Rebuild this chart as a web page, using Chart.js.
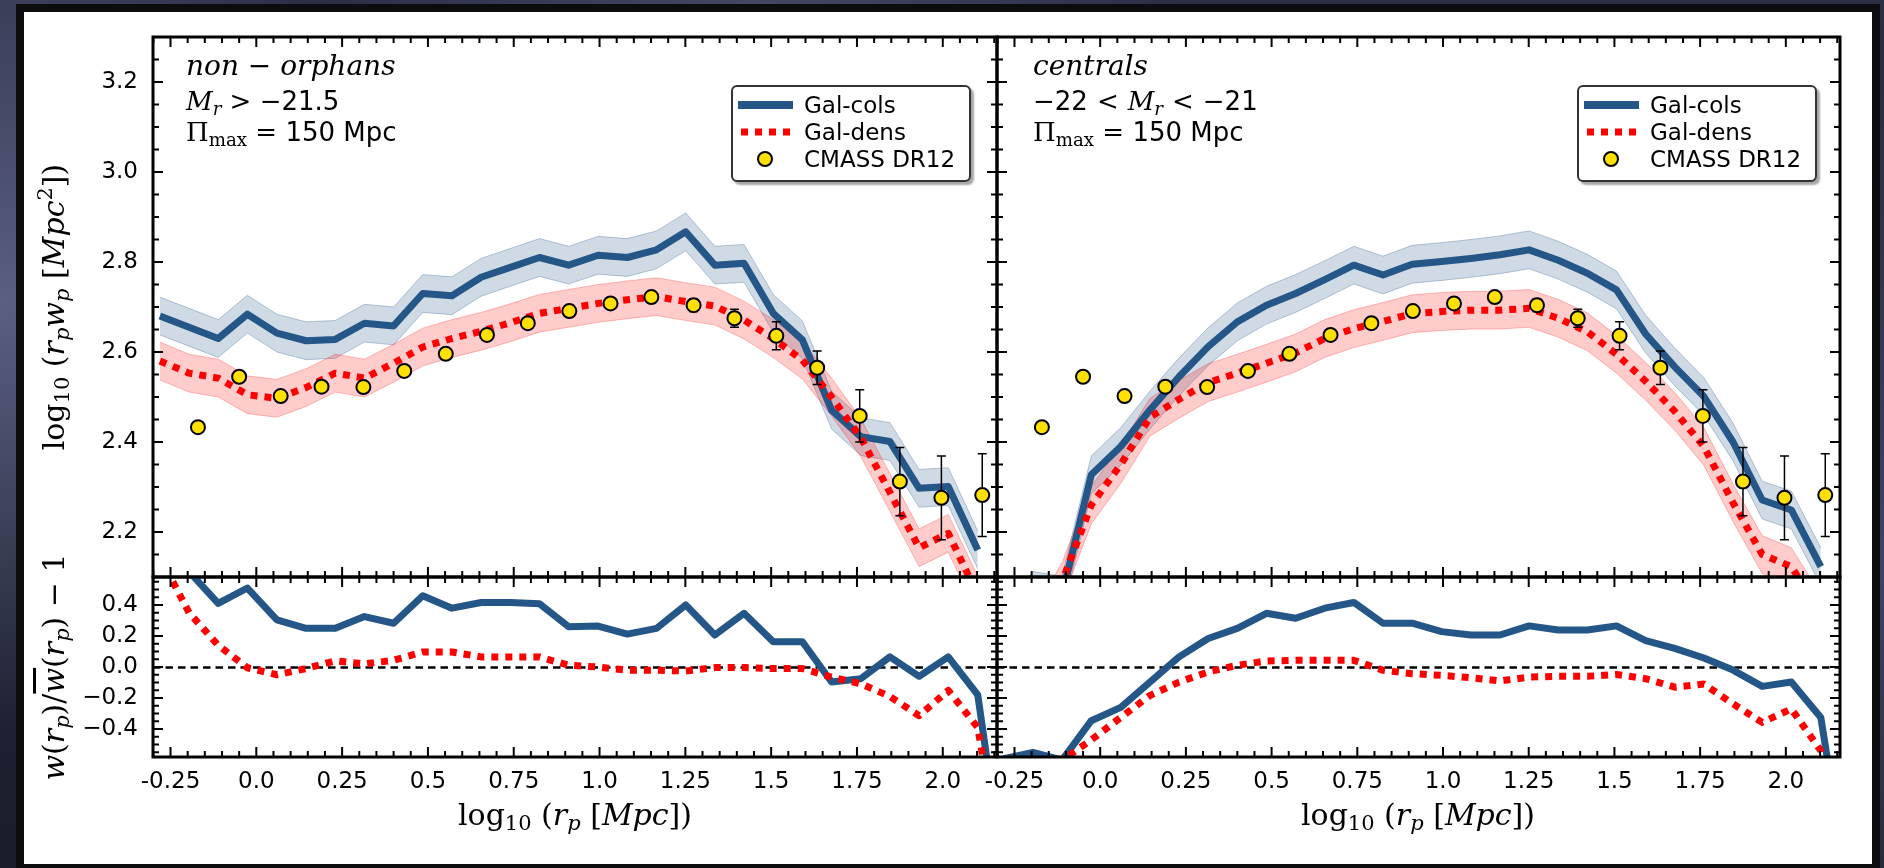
<!DOCTYPE html>
<html>
<head>
<meta charset="utf-8">
<script src="https://cdn.jsdelivr.net/npm/chart.js@4.4.1/dist/chart.umd.min.js"></script>
<style>
  html, body { margin: 0; padding: 0; }
  body {
    width: 1884px; height: 868px; overflow: hidden; position: relative;
    background:
      radial-gradient(circle at 0% 35%, rgba(135,140,185,0.55) 0, rgba(0,0,0,0) 22%),
      radial-gradient(circle at 100% 65%, rgba(100,108,150,0.45) 0, rgba(0,0,0,0) 25%),
      radial-gradient(circle at 40% 0%, rgba(90,95,130,0.5) 0, rgba(0,0,0,0) 30%),
      linear-gradient(180deg, #2b2f46, #1a1d2c);
  }
  #frame {
    position: absolute; left: 16px; top: 4px; width: 1864px; height: 868px;
    box-sizing: border-box; border: 8px solid #0c0c0e; background: #fff;
  }
  canvas.layer { position: absolute; left: 0; top: 0; z-index: 1; }
  .txt { position: absolute; z-index: 2; white-space: nowrap; color: #000; line-height: 1; }
  .mi { font-family: "DejaVu Serif", serif; font-style: italic; }
  .mr { font-family: "DejaVu Serif", serif; font-style: normal; }
  .sans { font-family: "DejaVu Sans", sans-serif; }
  .rel { margin: 0 9px; }
  sub, sup { font-size: 70%; line-height: 0; }
  sub { vertical-align: -0.25em; }
  sup { vertical-align: 0.55em; }
  .ann { font-size: 26px; }
  .ann.big { font-size: 28px; }
  .axt { font-size: 30px; }
  .rot { transform: translate(-50%, -50%) rotate(-90deg); }
  .ctr { transform: translate(-50%, -50%); }
  .legend {
    position: absolute; z-index: 2; width: 240px; height: 97px; box-sizing: border-box;
    background: #fff; border: 2px solid #333; border-radius: 6px;
    box-shadow: 3px 3px 2px rgba(0,0,0,0.35);
    font-family: "DejaVu Sans", sans-serif; font-size: 23px;
  }
  .legend .sw { position: absolute; left: 2px; }
  .legend .lab { position: absolute; left: 71px; line-height: 1; transform: translateY(-50%); }
</style>
</head>
<body>
<div id="frame"></div>

<!-- panel annotations -->
<div class="txt ann big" style="left:186px; top:52px;"><span class="mi">non</span><span class="mr"> − </span><span class="mi">orphans</span></div>
<div class="txt ann" style="left:186px; top:88px;"><span class="mi">M</span><sub class="mi">r</sub><span class="mr"> &gt; −</span><span class="sans">21.5</span></div>
<div class="txt ann" style="left:186px; top:119px;"><span class="mr">Π</span><sub class="mr">max</sub><span class="mr"> = </span><span class="sans">150 Mpc</span></div>

<div class="txt ann big" style="left:1033px; top:52px;"><span class="mi">centrals</span></div>
<div class="txt ann" style="left:1033px; top:88px;"><span class="mr">−</span><span class="sans">22</span><span class="mr rel">&lt;</span><span class="mi">M</span><sub class="mi">r</sub><span class="mr rel">&lt;</span><span class="mr">−</span><span class="sans">21</span></div>
<div class="txt ann" style="left:1033px; top:119px;"><span class="mr">Π</span><sub class="mr">max</sub><span class="mr"> = </span><span class="sans">150 Mpc</span></div>

<!-- axis titles -->
<div class="txt axt rot" style="left:54px; top:307px;"><span class="mr">log</span><sub class="mr">10</sub><span class="mr"> (</span><span class="mi">r</span><sub class="mi">p</sub><span class="mi">w</span><sub class="mi">p</sub><span class="mr"> [</span><span class="mi">Mpc</span><sup class="mr">2</sup><span class="mr">])</span></div>
<div class="txt axt rot" style="left:54px; top:667px;"><span class="mi">w</span><span class="mr">(</span><span class="mi">r</span><sub class="mi">p</sub><span class="mr">)/</span><span class="mi" style="text-decoration:overline;">w</span><span class="mr">(</span><span class="mi">r</span><sub class="mi">p</sub><span class="mr">) − 1</span></div>
<div class="txt axt ctr" style="left:575px; top:815px;"><span class="mr">log</span><sub class="mr">10</sub><span class="mr"> (</span><span class="mi">r</span><sub class="mi">p</sub><span class="mr"> [</span><span class="mi">Mpc</span><span class="mr">])</span></div>
<div class="txt axt ctr" style="left:1418px; top:815px;"><span class="mr">log</span><sub class="mr">10</sub><span class="mr"> (</span><span class="mi">r</span><sub class="mi">p</sub><span class="mr"> [</span><span class="mi">Mpc</span><span class="mr">])</span></div>

<!-- legends -->
<div class="legend" style="left:731px; top:85px;">
  <svg class="sw" style="top:10px" width="62" height="16"><line x1="3" y1="8" x2="58" y2="8" stroke="#245688" stroke-width="8"/></svg>
  <span class="lab" style="top:18px">Gal-cols</span>
  <svg class="sw" style="top:37px" width="62" height="16"><line x1="6" y1="8" x2="58" y2="8" stroke="#ff0000" stroke-width="7" stroke-dasharray="7 7"/></svg>
  <span class="lab" style="top:45px">Gal-dens</span>
  <svg class="sw" style="top:63px" width="62" height="20"><circle cx="30" cy="9" r="7" fill="#ffe000" stroke="#000" stroke-width="2"/></svg>
  <span class="lab" style="top:72px">CMASS DR12</span>
</div>
<div class="legend" style="left:1577px; top:85px;">
  <svg class="sw" style="top:10px" width="62" height="16"><line x1="3" y1="8" x2="58" y2="8" stroke="#245688" stroke-width="8"/></svg>
  <span class="lab" style="top:18px">Gal-cols</span>
  <svg class="sw" style="top:37px" width="62" height="16"><line x1="6" y1="8" x2="58" y2="8" stroke="#ff0000" stroke-width="7" stroke-dasharray="7 7"/></svg>
  <span class="lab" style="top:45px">Gal-dens</span>
  <svg class="sw" style="top:63px" width="62" height="20"><circle cx="30" cy="9" r="7" fill="#ffe000" stroke="#000" stroke-width="2"/></svg>
  <span class="lab" style="top:72px">CMASS DR12</span>
</div>

<script>
// ---- axis ranges and tick labels ----
const X_RANGE = [-0.301, 2.158];
const Y_WP_RANGE = [2.1, 3.3];
const Y_RATIO_RANGE = [-0.58, 0.58];
const X_TICKS = [-0.25, 0, 0.25, 0.5, 0.75, 1.0, 1.25, 1.5, 1.75, 2.0];
const X_TICK_LABELS = ['-0.25', '0.0', '0.25', '0.5', '0.75', '1.0', '1.25', '1.5', '1.75', '2.0'];
const Y_WP_TICKS = [2.2, 2.4, 2.6, 2.8, 3.0, 3.2];
const Y_WP_TICK_LABELS = ['2.2', '2.4', '2.6', '2.8', '3.0', '3.2'];
const Y_RATIO_TICKS = [-0.4, -0.2, 0.0, 0.2, 0.4];
const Y_RATIO_TICK_LABELS = ['\u22120.4', '\u22120.2', '0.0', '0.2', '0.4'];

// ---- model separation bins, log10(r_p / Mpc) ----
const LOG_RP_MODEL = [-0.281, -0.196, -0.111, -0.026, 0.060, 0.145, 0.230, 0.315, 0.400, 0.485,
                      0.570, 0.655, 0.740, 0.825, 0.910, 0.996, 1.081, 1.166, 1.251, 1.336,
                      1.421, 1.506, 1.591, 1.676, 1.761, 1.846, 1.931, 2.016, 2.102, 2.187];

// non-orphans, M_r > -21.5 : log10(r_p w_p)
const NONORPH_COLS = [2.680, 2.655, 2.630, 2.684, 2.642, 2.625, 2.628, 2.664, 2.658, 2.730,
                      2.725, 2.766, 2.788, 2.810, 2.793, 2.815, 2.810, 2.827, 2.867, 2.793,
                      2.797, 2.686, 2.627, 2.471, 2.412, 2.401, 2.297, 2.301, 2.160, null];
const NONORPH_DENS = [2.580, 2.553, 2.542, 2.505, 2.497, 2.521, 2.553, 2.542, 2.575, 2.611,
                      2.630, 2.646, 2.665, 2.686, 2.697, 2.708, 2.716, 2.723, 2.712, 2.702,
                      2.671, 2.630, 2.582, 2.500, 2.410, 2.288, 2.165, 2.197, 2.060, null];
// centrals, -22 < M_r < -21 : log10(r_p w_p)
const CENT_COLS = [1.980, 2.070, 2.060, 2.327, 2.390, 2.471, 2.545, 2.612, 2.667, 2.704,
                   2.730, 2.761, 2.793, 2.771, 2.795, 2.801, 2.808, 2.816, 2.827, 2.804,
                   2.775, 2.738, 2.640, 2.567, 2.501, 2.400, 2.271, 2.249, 2.123, null];
const CENT_DENS = [1.900, 1.980, 2.090, 2.260, 2.350, 2.455, 2.495, 2.532, 2.553, 2.575,
                   2.598, 2.630, 2.652, 2.668, 2.685, 2.690, 2.693, 2.693, 2.697, 2.675,
                   2.645, 2.595, 2.535, 2.468, 2.390, 2.265, 2.150, 2.123, 2.020, null];
// half width of the shaded model scatter, dex
const MODEL_SCATTER = 0.042;

// ratios w(r_p)/w_mean(r_p) - 1
const NONORPH_COLS_RATIO = [0.80, 0.615, 0.41, 0.509, 0.303, 0.249, 0.249, 0.325, 0.282, 0.459,
                            0.379, 0.416, 0.416, 0.407, 0.260, 0.264, 0.212, 0.249, 0.400, 0.206,
                            0.346, 0.163, 0.163, -0.097, -0.076, 0.065, -0.060, 0.065, -0.180, -1.5];
const NONORPH_DENS_RATIO = [0.71, 0.35, 0.14, -0.005, -0.05, -0.01, 0.04, 0.02, 0.043, 0.097,
                            0.097, 0.065, 0.065, 0.065, 0.011, 0.0, -0.021, -0.021, -0.026, -0.004,
                            -0.004, -0.010, -0.010, -0.065, -0.108, -0.190, -0.314, -0.151, -0.390, -1.5];
const CENT_COLS_RATIO = [-0.59, -0.55, -0.60, -0.346, -0.26, -0.097, 0.065, 0.184, 0.249, 0.346,
                         0.314, 0.379, 0.416, 0.282, 0.282, 0.228, 0.206, 0.206, 0.265, 0.238,
                         0.238, 0.265, 0.170, 0.120, 0.058, -0.020, -0.125, -0.097, -0.325, -1.5];
const CENT_DENS_RATIO = [-0.90, -0.80, -0.60, -0.47, -0.325, -0.184, -0.097, -0.032, 0.011, 0.039,
                         0.043, 0.043, 0.043, -0.021, -0.043, -0.054, -0.069, -0.090, -0.065, -0.060,
                         -0.060, -0.048, -0.075, -0.130, -0.110, -0.238, -0.357, -0.270, -0.540, -1.5];

// ---- CMASS DR12 measurement ----
const LOG_RP_DATA = [-0.170, -0.050, 0.071, 0.190, 0.312, 0.431, 0.552, 0.672, 0.791, 0.912,
                     1.032, 1.151, 1.274, 1.393, 1.515, 1.634, 1.758, 1.875, 1.996, 2.115];
const CMASS_WP = [2.433, 2.545, 2.502, 2.523, 2.522, 2.558, 2.596, 2.638, 2.664, 2.691,
                  2.708, 2.722, 2.704, 2.675, 2.636, 2.565, 2.458, 2.312, 2.276, 2.282];
const CMASS_ERR = [0.005, 0.005, 0.006, 0.006, 0.007, 0.007, 0.008, 0.008, 0.009, 0.010,
                   0.011, 0.012, 0.014, 0.020, 0.031, 0.037, 0.058, 0.076, 0.093, 0.092];

// ---- styling ----
const BLUE = '#245688';
const RED = '#ff0000';
const YELLOW = '#ffe000';
const BLUE_FILL = 'rgba(36,86,136,0.22)';
const BLUE_EDGE = 'rgba(36,86,136,0.30)';
const RED_FILL = 'rgba(255,0,0,0.20)';
const RED_EDGE = 'rgba(255,0,0,0.25)';

const W = 1884, H = 868;
const COL_LEFT = [153, 997], COL_RIGHT = [997, 1840];
const ROW_TOP = [37, 577], ROW_BOTTOM = [577, 757];
const Y_AXIS_BOX = 120;   // room kept for y tick labels
const X_AXIS_BOX = 60;    // room kept for x tick labels

const pts = (xs, ys) => xs.map((x, i) => ({x, y: ys[i] === undefined ? null : ys[i]}));
const shift = (ys, d) => ys.map(v => (v === null ? null : v + d));

// Frame, inward ticks, reference line and error bars
const frameTicks = {
  id: 'frameTicks',
  beforeDatasetsDraw(chart, args, o) {
    if (o.refLine === undefined) return;
    const {ctx, chartArea: a, scales: {y}} = chart;
    const py = Math.round(y.getPixelForValue(o.refLine)) + 0.5;
    ctx.save();
    ctx.strokeStyle = '#000'; ctx.lineWidth = 2.5; ctx.setLineDash([7.5, 5]);
    ctx.beginPath(); ctx.moveTo(a.left, py); ctx.lineTo(a.right, py); ctx.stroke();
    ctx.restore();
  },
  beforeDatasetDraw(chart, args) {
    const ds = chart.data.datasets[args.index];
    if (!ds.errors) return;
    const {ctx, scales: {x, y}} = chart;
    ctx.save();
    ctx.strokeStyle = '#000'; ctx.lineWidth = 1.5;
    ds.data.forEach((p, i) => {
      const e = ds.errors[i];
      const px = x.getPixelForValue(p.x);
      const y1 = y.getPixelForValue(p.y - e), y2 = y.getPixelForValue(p.y + e);
      ctx.beginPath();
      ctx.moveTo(px, y1); ctx.lineTo(px, y2);
      ctx.moveTo(px - 4.5, y1); ctx.lineTo(px + 4.5, y1);
      ctx.moveTo(px - 4.5, y2); ctx.lineTo(px + 4.5, y2);
      ctx.stroke();
    });
    ctx.restore();
  },
  afterDatasetsDraw(chart, args, o) {
    const {ctx, chartArea: a, scales: {x, y}} = chart;
    ctx.save();
    ctx.strokeStyle = '#000'; ctx.lineWidth = 2; ctx.setLineDash([]);
    const marks = (scale, minor, ratio) => {
      const out = [];
      const k0 = Math.ceil(scale.min / minor - 1e-6), k1 = Math.floor(scale.max / minor + 1e-6);
      for (let k = k0; k <= k1; k++) out.push({p: scale.getPixelForValue(k * minor), major: k % ratio === 0});
      return out;
    };
    ctx.beginPath();
    marks(x, o.xMinor, o.xRatio).forEach(t => {
      const L = t.major ? 10 : 6;
      ctx.moveTo(t.p, a.bottom); ctx.lineTo(t.p, a.bottom - L);
      ctx.moveTo(t.p, a.top); ctx.lineTo(t.p, a.top + L);
    });
    marks(y, o.yMinor, o.yRatio).forEach(t => {
      const L = t.major ? 10 : 6;
      ctx.moveTo(a.left, t.p); ctx.lineTo(a.left + L, t.p);
      ctx.moveTo(a.right, t.p); ctx.lineTo(a.right - L, t.p);
    });
    ctx.stroke();
    ctx.lineWidth = 3;
    ctx.strokeRect(a.left, a.top, a.right - a.left, a.bottom - a.top);
    ctx.restore();
  }
};

function modelSets(xs, cols, dens, withBand) {
  const line = (ys, color, dash, order) => ({
    data: pts(xs, ys), borderColor: color, borderWidth: 7, borderDash: dash,
    borderCapStyle: 'butt', borderJoinStyle: 'round', pointRadius: 0,
    fill: false, tension: 0, spanGaps: false, clip: 0, order
  });
  const sets = [line(dens, RED, [7, 7], 1), line(cols, BLUE, [], 2)];
  if (withBand) {
    const edge = (ys, color, fill, bg, order) => ({
      data: pts(xs, ys), borderColor: color, borderWidth: 1, pointRadius: 0,
      fill, backgroundColor: bg, tension: 0, spanGaps: false, clip: 0, order
    });
    sets.push(edge(shift(dens, MODEL_SCATTER), RED_EDGE, '+1', RED_FILL, 3));
    sets.push(edge(shift(dens, -MODEL_SCATTER), RED_EDGE, false, RED_FILL, 4));
    sets.push(edge(shift(cols, MODEL_SCATTER), BLUE_EDGE, '+1', BLUE_FILL, 5));
    sets.push(edge(shift(cols, -MODEL_SCATTER), BLUE_EDGE, false, BLUE_FILL, 6));
  }
  return sets;
}

function cmassSet() {
  return {
    data: pts(LOG_RP_DATA, CMASS_WP), errors: CMASS_ERR, showLine: false,
    pointRadius: 7, pointBorderWidth: 2, pointBackgroundColor: YELLOW, pointBorderColor: '#000',
    borderColor: '#000', backgroundColor: YELLOW, clip: 12, order: 0
  };
}

function panel(col, row, yRange, yTicks, yLabels, yMinor, yRatio, showX, showY, datasets, refLine) {
  const cv = document.createElement('canvas');
  cv.width = W; cv.height = H; cv.className = 'layer';
  cv.style.width = W + 'px'; cv.style.height = H + 'px';
  document.body.appendChild(cv);
  const font = {family: 'DejaVu Sans', size: 23};
  return new Chart(cv, {
    type: 'line',
    data: {datasets},
    options: {
      responsive: false, animation: false, devicePixelRatio: 1, events: [],
      layout: {padding: {left: col[0] - Y_AXIS_BOX, right: W - col[1], top: row[0],
                         bottom: H - row[1] - X_AXIS_BOX}},
      plugins: {
        legend: {display: false}, tooltip: {enabled: false},
        frameTicks: {xMinor: 0.05, xRatio: 5, yMinor, yRatio, refLine}
      },
      scales: {
        x: {
          type: 'linear', min: X_RANGE[0], max: X_RANGE[1],
          grid: {display: false, drawTicks: false}, border: {display: false},
          afterFit: s => { s.height = X_AXIS_BOX; },
          afterBuildTicks: s => { s.ticks = X_TICKS.map(v => ({value: v})); },
          ticks: {display: showX, autoSkip: false, maxRotation: 0, minRotation: 0, padding: 11,
                  color: '#000', font, callback: (v, i) => X_TICK_LABELS[i]}
        },
        y: {
          type: 'linear', min: yRange[0], max: yRange[1],
          grid: {display: false, drawTicks: false}, border: {display: false},
          afterFit: s => { s.width = Y_AXIS_BOX; },
          afterBuildTicks: s => { s.ticks = yTicks.map(v => ({value: v})); },
          ticks: {display: showY, autoSkip: false, padding: 15, color: '#000', font,
                  callback: (v, i) => yLabels[i]}
        }
      }
    },
    plugins: [frameTicks]
  });
}

// projected correlation function panels
panel(COL_LEFT, ROW_TOP, Y_WP_RANGE, Y_WP_TICKS, Y_WP_TICK_LABELS, 0.05, 4, false, true,
      [cmassSet(), ...modelSets(LOG_RP_MODEL, NONORPH_COLS, NONORPH_DENS, true)]);
panel(COL_RIGHT, ROW_TOP, Y_WP_RANGE, Y_WP_TICKS, Y_WP_TICK_LABELS, 0.05, 4, false, false,
      [cmassSet(), ...modelSets(LOG_RP_MODEL, CENT_COLS, CENT_DENS, true)]);
// relative difference panels
panel(COL_LEFT, ROW_BOTTOM, Y_RATIO_RANGE, Y_RATIO_TICKS, Y_RATIO_TICK_LABELS, 0.05, 4, true, true,
      modelSets(LOG_RP_MODEL, NONORPH_COLS_RATIO, NONORPH_DENS_RATIO, false), 0);
panel(COL_RIGHT, ROW_BOTTOM, Y_RATIO_RANGE, Y_RATIO_TICKS, Y_RATIO_TICK_LABELS, 0.05, 4, true, false,
      modelSets(LOG_RP_MODEL, CENT_COLS_RATIO, CENT_DENS_RATIO, false), 0);
</script>
</body>
</html>
